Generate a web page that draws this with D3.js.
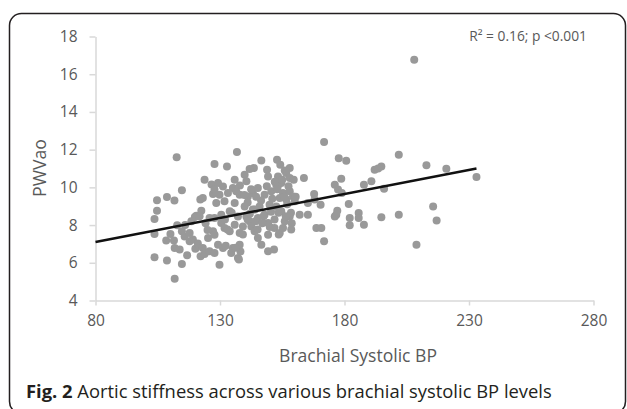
<!DOCTYPE html>
<html>
<head>
<meta charset="utf-8">
<script src="https://cdn.jsdelivr.net/npm/d3@7"></script>
<style>
  body { margin: 0; background: #fff; }
  text { font-family: "Open Sans", sans-serif; }
</style>
</head>
<body>
<div id="wrapper"></div>
<script>
// brachial systolic BP (x) and PWVao (y)
const sbp = [
  112.6,123.8,114.7,108.7,111.7,104.7,104.7,103.7,103.7,103.7,108.7,114.7,111.8,122.1,123.1,120.5,122.5,125.8,127.2,112.8,
  110.1,111.5,108.4,114.7,115.8,117.8,119.1,117.8,120.1,121.1,123.1,122.2,123.8,125.8,111.8,113.8,116.8,125.2,127.2,119.9,
  125.0,126.6,121.8,124.2,118.5,116.0,
  127.8,171.8,136.8,132.8,146.6,152.9,154.2,158.0,163.7,143.6,141.9,139.9,148.9,149.3,156.6,153.3,158.0,154.6,152.6,145.2,
  140.6,135.9,135.2,131.2,129.2,129.8,133.2,127.8,137.9,141.2,143.2,147.9,150.6,155.3,158.0,156.6,154.0,160.0,159.3,167.8,
  170.4,165.3,168.0,128.5,131.8,135.9,139.9,143.2,145.9,149.9,152.6,154.6,133.9,137.2,140.6,141.9,145.2,147.9,149.3,151.9,
  156.0,158.0,158.6,162.0,165.3,130.5,130.5,127.8,131.8,133.9,135.9,139.2,137.9,142.6,143.9,145.2,146.6,149.3,151.9,154.0,
  155.3,168.7,170.7,171.8,149.3,151.7,127.8,129.2,131.2,134.5,137.2,137.9,135.2,129.8,127.8,176.1,177.1,176.1,177.4,
  137.6,138.2,148.8,153.2,157.5,159.6,160.4,139.8,141.1,144.0,144.3,147.5,153.5,158.5,158.8,155.9,156.4,145.1,153.6,132.3,
  133.0,134.7,139.2,141.1,132.0,136.3,150.0,146.5,151.0,142.5,138.0,
  150.5,152.0,155.0,157.0,144.5,142.0,136.5,147.0,156.0,153.0,
  177.7,180.7,201.8,212.9,220.9,233.0,192.1,193.5,194.8,190.8,187.8,195.9,178.7,181.7,176.7,182.1,182.1,185.7,185.7,187.8,
  194.8,201.8,215.6,217.0,208.9,208.0,178.9
]
const pwv = [
  11.59,10.40,9.84,9.49,9.30,9.31,8.76,8.32,7.53,6.29,6.12,5.94,5.15,9.35,9.44,8.50,8.76,8.38,9.65,7.99,
  7.53,7.18,7.18,7.67,7.40,7.58,7.23,7.14,6.75,7.02,6.79,6.35,6.47,6.61,6.79,6.70,6.40,7.32,7.67,8.43,
  7.74,10.15,8.47,8.10,8.20,8.00,
  11.24,12.40,11.87,11.11,11.43,11.47,11.20,11.02,10.50,11.02,10.97,10.67,10.94,10.58,10.76,10.58,10.50,10.23,10.14,9.97,
  10.32,10.40,9.97,10.05,10.23,9.61,9.70,9.88,9.61,9.52,9.70,9.61,9.79,9.70,9.79,9.35,9.44,9.26,9.52,9.65,
  9.08,9.17,9.35,9.17,9.26,9.17,8.99,8.82,8.99,9.08,8.99,8.73,8.73,8.46,8.46,8.20,8.38,8.55,8.11,8.29,
  8.20,8.46,7.76,8.55,8.55,8.55,8.11,8.38,7.85,7.67,8.02,7.93,7.58,7.93,7.67,7.32,6.96,7.49,7.85,7.58,
  7.85,7.85,7.85,7.14,6.61,6.70,7.49,6.96,6.79,6.52,6.26,6.96,6.79,5.90,6.52,8.46,8.76,10.14,9.88,
  6.17,6.60,10.06,10.06,10.06,10.40,9.50,9.60,9.20,8.82,8.20,8.47,8.65,8.65,8.10,9.50,8.47,7.76,7.50,6.90,
  7.76,8.65,7.50,8.30,8.30,6.80,7.90,9.30,9.40,9.90,10.10,
  8.70,10.30,10.40,9.10,9.50,8.60,9.80,8.10,10.90,9.90,
  11.55,11.41,11.73,11.17,10.99,10.55,10.94,11.00,11.11,10.32,10.14,9.93,10.46,9.12,8.55,8.38,7.99,8.64,8.38,8.02,
  8.41,8.55,8.99,8.24,6.96,16.77,9.70
]
const trendX = [80, 233]
const trendY = [7.1, 11.0]
const xTicks = [80, 130, 180, 230, 280]
const yTicks = [4, 6, 8, 10, 12, 14, 16, 18]

const points = sbp.map((x, i) => ({ x: x, y: pwv[i] }))

const dimensions = {
  width: 627,
  height: 409,
  left: 95.5,
  right: 593.5,
  top: 36.5,
  bottom: 300.5,
}

const svg = d3.select("#wrapper")
  .append("svg")
    .attr("width", dimensions.width)
    .attr("height", dimensions.height)

// outer rounded frame
svg.append("rect")
  .attr("x", 9.5)
  .attr("y", 13.5)
  .attr("width", 616)
  .attr("height", 400)
  .attr("rx", 12)
  .attr("fill", "none")
  .attr("stroke", "#231f20")
  .attr("stroke-width", 1.5)

const xScale = d3.scaleLinear()
  .domain([80, 280])
  .range([dimensions.left, dimensions.right])

const yScale = d3.scaleLinear()
  .domain([4, 18])
  .range([dimensions.bottom, dimensions.top])

// axes
const xAxis = svg.append("g")
  .attr("transform", `translate(0,${dimensions.bottom})`)
  .call(d3.axisBottom(xScale).tickValues(xTicks).tickSize(5).tickPadding(9).tickSizeOuter(0))
const yAxis = svg.append("g")
  .attr("transform", `translate(${dimensions.left},0)`)
  .call(d3.axisLeft(yScale).tickValues(yTicks).tickSize(6).tickPadding(12).tickSizeOuter(0))

for (const ax of [xAxis, yAxis]) {
  ax.select(".domain").attr("stroke", "#d9d9d9").attr("stroke-width", 1.5)
  ax.selectAll(".tick line").attr("stroke", "#d9d9d9").attr("stroke-width", 1.5)
  ax.selectAll(".tick text")
    .attr("fill", "#595959")
    .style("font-family", "'Open Sans', sans-serif")
    .style("font-size", "15.5px")
}

// dots
svg.append("g")
  .selectAll("circle")
  .data(points)
  .join("circle")
    .attr("cx", d => xScale(d.x))
    .attr("cy", d => yScale(d.y))
    .attr("r", 4)
    .attr("fill", "#999999")

// trend line
const lineGenerator = d3.line()
  .x(d => xScale(d[0]))
  .y(d => yScale(d[1]))
svg.append("path")
  .attr("d", lineGenerator(trendX.map((x, i) => [x, trendY[i]])))
  .attr("fill", "none")
  .attr("stroke", "#111")
  .attr("stroke-width", 2.5)

// stretch a text to the width it has in the picture
function fitWidth(sel, target) {
  const w = sel.node().getComputedTextLength()
  const fs = parseFloat(sel.style("font-size"))
  sel.style("font-size", (fs * target / w) + "px")
}

const rsq = svg.append("text")
  .attr("x", 587)
  .attr("y", 41)
  .attr("text-anchor", "end")
  .attr("fill", "#595959")
  .style("font-size", "12px")
rsq.append("tspan").text("R")
rsq.append("tspan").text("²")
rsq.append("tspan").text(" = 0.16; p <0.001")
fitWidth(rsq, 118)

const xTitle = svg.append("text")
  .attr("x", 358)
  .attr("y", 362)
  .attr("text-anchor", "middle")
  .attr("fill", "#595959")
  .style("font-size", "15px")
  .text("Brachial Systolic BP")
fitWidth(xTitle, 158)

const yTitle = svg.append("text")
  .attr("transform", "translate(46,168) rotate(-90)")
  .attr("text-anchor", "middle")
  .attr("fill", "#595959")
  .style("font-size", "15px")
  .text("PWVao")
fitWidth(yTitle, 58)

const caption = svg.append("text")
  .attr("x", 26)
  .attr("y", 398)
  .attr("fill", "#231f20")
  .style("font-size", "16px")
caption.append("tspan").style("font-weight", "bold").text("Fig. 2")
caption.append("tspan").text(" Aortic stiffness across various brachial systolic BP levels")
fitWidth(caption, 526)
</script>
</body>
</html>
